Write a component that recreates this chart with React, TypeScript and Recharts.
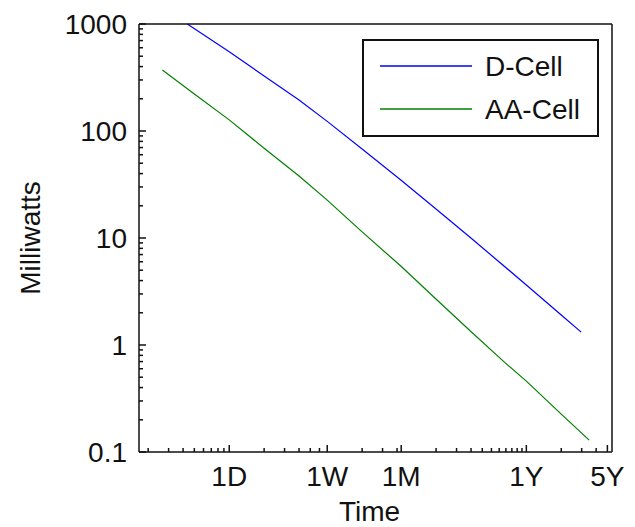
import { Legend, Line, LineChart, XAxis, YAxis } from "recharts";

// time in days, power in milliwatts
const dCellDays = [0.435, 1, 2, 4, 7, 14, 30, 60, 120, 201, 365, 730, 1084];
const dCellMilliwatts = [1000, 550, 327, 195, 123, 68, 35, 18.9, 10.1, 6.3, 3.64, 1.91, 1.32];

const aaCellDays = [0.265, 0.5, 1, 2, 4, 7, 14, 30, 60, 120, 240, 365, 730, 1271];
const aaCellMilliwatts = [372, 222, 127, 69, 38, 22.6, 11.4, 5.5, 2.72, 1.35, 0.68, 0.46, 0.226, 0.129];

const seriesOrder = ["D-Cell", "AA-Cell"];

const timeLabels = ["1D", "1W", "1M", "1Y", "5Y"];
const timeLabelDays = [1, 7, 30.42, 365, 1825];
const timeMinorDays = [
  0.2, 0.3, 0.4, 0.5, 0.6, 0.7, 0.8, 0.9, 2, 3, 4, 5, 6, 14, 21, 28, 60.8, 91.3, 121.7, 152.1,
  182.5, 212.9, 243.3, 273.8, 304.2, 334.6, 730, 1095, 1460,
];

const powerLabels = ["0.1", "1", "10", "100", "1000"];
const powerLabelValues = [0.1, 1, 10, 100, 1000];
const powerMinorValues = [
  0.2, 0.3, 0.4, 0.5, 0.6, 0.7, 0.8, 0.9, 2, 3, 4, 5, 6, 7, 8, 9, 20, 30, 40, 50, 60, 70, 80, 90,
  200, 300, 400, 500, 600, 700, 800, 900,
];

const X_DOMAIN = [1 / 6, 2000];
const Y_DOMAIN = [0.1, 1000];

const FONT = '"Liberation Sans", Arial, Helvetica, sans-serif';
const INK = "#111";
const MINOR = 4;
const MAJOR_EXTRA = 3;

const dCell = dCellDays.map((t, i) => ({ t, p: dCellMilliwatts[i] }));
const aaCell = aaCellDays.map((t, i) => ({ t, p: aaCellMilliwatts[i] }));
const timeTicks = [...timeLabelDays, ...timeMinorDays].sort((a, b) => a - b);
const powerTicks = [...powerLabelValues, ...powerMinorValues].sort((a, b) => a - b);

const findLabel = (vals: number[], labels: string[], v: number) => {
  const i = vals.findIndex((d) => Math.abs(d - v) < 1e-6);
  return i >= 0 ? labels[i] : null;
};

// built-in tick lines draw inward (negative tickSize); (x, y) arrive at their inner end
function TimeTick(props: any) {
  const { side, payload } = props;
  const x = Number(props.x);
  const y = Number(props.y);
  const label = findLabel(timeLabelDays, timeLabels, payload.value);
  if (!label) return <g />;
  const dir = side === "top" ? 1 : -1;
  const axisY = y - dir * MINOR;
  return (
    <g>
      <line x1={x} x2={x} y1={y} y2={y + dir * MAJOR_EXTRA} stroke={INK} strokeWidth={1.5} />
      {side === "bottom" && (
        <text x={x} y={axisY + 34} textAnchor="middle" fontSize={28} fontFamily={FONT} fill={INK}>
          {label}
        </text>
      )}
    </g>
  );
}

function PowerTick(props: any) {
  const { side, payload } = props;
  const x = Number(props.x);
  const y = Number(props.y);
  const label = findLabel(powerLabelValues, powerLabels, payload.value);
  if (!label) return <g />;
  const dir = side === "right" ? -1 : 1;
  const axisX = x - dir * MINOR;
  return (
    <g>
      <line x1={x} x2={x + dir * MAJOR_EXTRA} y1={y} y2={y} stroke={INK} strokeWidth={1.5} />
      {side === "left" && (
        <text x={axisX - 12} y={y + 10} textAnchor="end" fontSize={28} fontFamily={FONT} fill={INK}>
          {label}
        </text>
      )}
    </g>
  );
}

function LegendBox({ payload }: any) {
  const items = [...(payload || [])].sort(
    (a: any, b: any) => seriesOrder.indexOf(a.value) - seriesOrder.indexOf(b.value)
  );
  return (
    <svg width={237} height={98} style={{ display: "block" }}>
      <rect x={1} y={1} width={235} height={96} fill="#fff" stroke={INK} strokeWidth={2} />
      {items.map((it: any, i: number) => (
        <g key={it.value}>
          <line x1={18} x2={110} y1={27 + i * 43} y2={27 + i * 43} stroke={it.color} strokeWidth={1.3} />
          <text x={123} y={37 + i * 43} fontSize={28} fontFamily={FONT} fill={INK}>
            {it.value}
          </text>
        </g>
      ))}
    </svg>
  );
}

const tickLineStyle = { stroke: INK, strokeWidth: 1.5 };
const axisLineStyle = { stroke: INK, strokeWidth: 1.5 };

export default function App() {
  return (
    <div style={{ width: 635, height: 527, background: "#fff" }}>
      <style>{"body{margin:0;background:#fff}"}</style>
      <LineChart width={635} height={527} margin={{ top: 23, right: 22, bottom: 0, left: 0 }}>
        <XAxis
          dataKey="t"
          type="number"
          scale="log"
          domain={X_DOMAIN}
          ticks={timeTicks}
          interval={0}
          height={75}
          tickSize={-MINOR}
          tickMargin={0}
          tickLine={tickLineStyle}
          stroke={INK}
          axisLine={axisLineStyle}
          tick={<TimeTick side="bottom" />}
          label={{
            content: ({ viewBox }: any) => (
              <text
                x={viewBox.x + viewBox.width / 2 - 6}
                y={viewBox.y + 69}
                textAnchor="middle"
                fontSize={28}
                fontFamily={FONT}
                fill={INK}
              >
                Time
              </text>
            ),
          }}
        />
        <XAxis
          xAxisId="top"
          dataKey="t"
          orientation="top"
          type="number"
          scale="log"
          domain={X_DOMAIN}
          ticks={timeTicks}
          interval={0}
          height={1}
          tickSize={-MINOR}
          tickMargin={0}
          tickLine={tickLineStyle}
          stroke={INK}
          axisLine={axisLineStyle}
          tick={<TimeTick side="top" />}
        />
        <YAxis
          type="number"
          scale="log"
          domain={Y_DOMAIN}
          ticks={powerTicks}
          interval={0}
          width={139}
          tickSize={-MINOR}
          tickMargin={0}
          tickLine={tickLineStyle}
          stroke={INK}
          axisLine={axisLineStyle}
          tick={<PowerTick side="left" />}
          label={{
            content: ({ viewBox }: any) => {
              const cx = viewBox.x + 40;
              const cy = viewBox.y + viewBox.height / 2;
              return (
                <text
                  x={cx}
                  y={cy}
                  transform={`rotate(-90, ${cx}, ${cy})`}
                  textAnchor="middle"
                  fontSize={28}
                  fontFamily={FONT}
                  fill={INK}
                >
                  Milliwatts
                </text>
              );
            },
          }}
        />
        <YAxis
          yAxisId="right"
          dataKey="p"
          orientation="right"
          type="number"
          scale="log"
          domain={Y_DOMAIN}
          ticks={powerTicks}
          interval={0}
          width={1}
          tickSize={-MINOR}
          tickMargin={0}
          tickLine={tickLineStyle}
          stroke={INK}
          axisLine={axisLineStyle}
          tick={<PowerTick side="right" />}
        />
        <Legend
          layout="vertical"
          align="center"
          verticalAlign="middle"
          content={<LegendBox />}
          wrapperStyle={{ left: 362, top: 39, width: 237, height: 98 }}
        />
        <Line
          data={dCell}
          dataKey="p"
          name="D-Cell"
          type="linear"
          stroke="#0000ff"
          strokeWidth={1.2}
          dot={false}
          isAnimationActive={false}
        />
        <Line
          data={aaCell}
          dataKey="p"
          name="AA-Cell"
          type="linear"
          stroke="#008000"
          strokeWidth={1.2}
          dot={false}
          isAnimationActive={false}
        />
      </LineChart>
    </div>
  );
}
